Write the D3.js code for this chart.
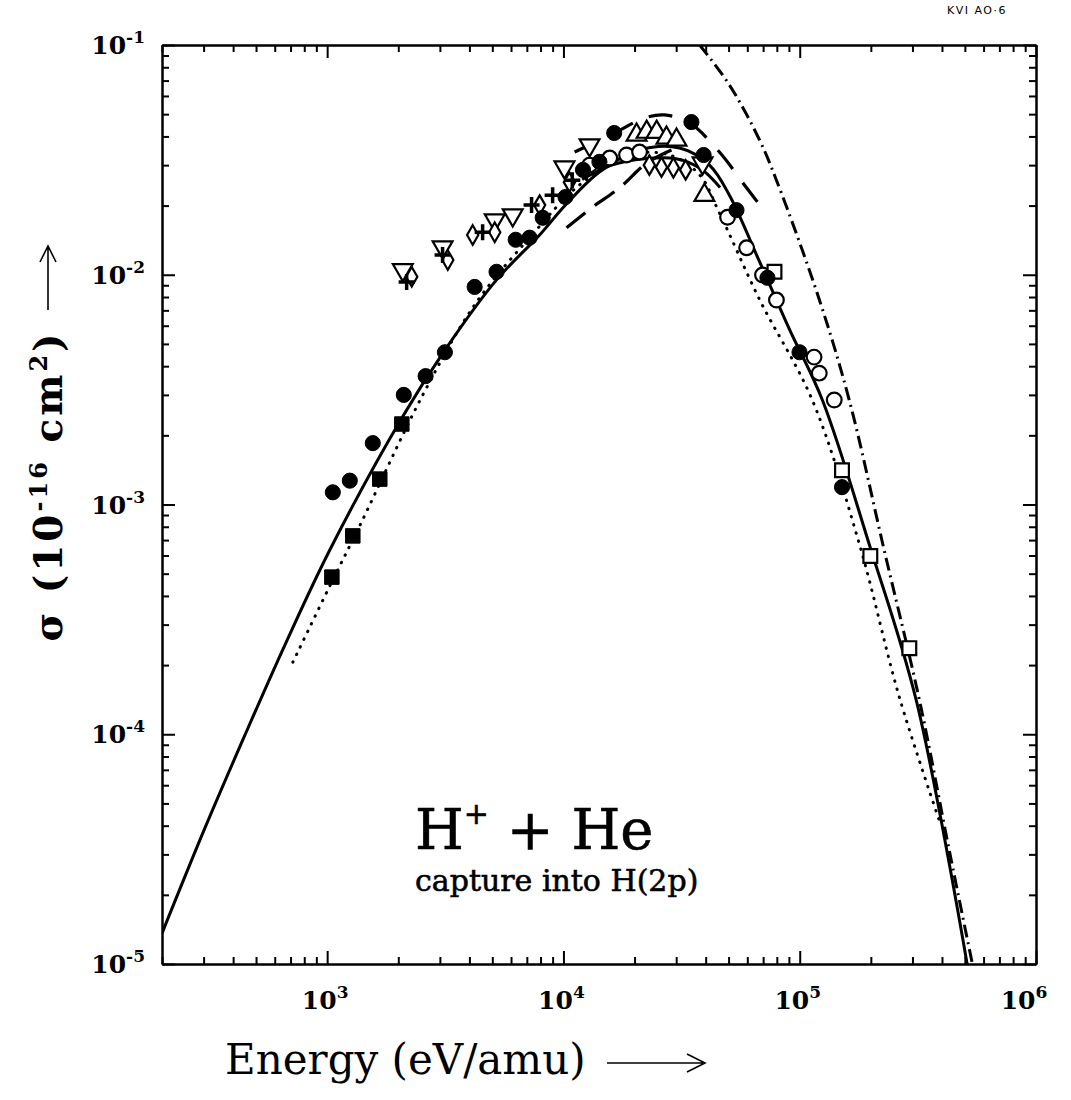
<!DOCTYPE html>
<html>
<head>
<meta charset="utf-8">
<script src="https://cdn.jsdelivr.net/npm/d3@7"></script>
<style>
  body { margin: 0; background: #fff; }
  svg { display: block; }
  .axis path, .axis line { stroke: #000; stroke-width: 2; }
</style>
</head>
<body>
<div id="chart"></div>
<script>
// ---- Data ----
var xMajor = [1e3, 1e4, 1e5, 1e6];
var xExp = ['3', '4', '5', '6'];
var yMajor = [1e-1, 1e-2, 1e-3, 1e-4, 1e-5];
var yExp = ['-1', '-2', '-3', '-4', '-5'];

// theory curves [E (eV/amu), sigma (1e-16 cm2)]
var solidMain = [[200,1.36e-5],[304,3.91e-5],[449,9.93e-5],[663,2.45e-4],[1026,6.34e-4],[2070,2.38e-3],
  [3150,4.7e-3],[5210,9.5e-3],[7930,1.49e-2],[10200,2.01e-2],[14200,2.8e-2],[21000,3.49e-2],[31000,3.56e-2],
  [41500,3.0e-2],[50400,2.22e-2],[67600,1.14e-2],[90400,5.8e-3],[124700,2.85e-3],[197000,6.7e-4],
  [311000,1.41e-4],[512000,9.9e-6]];
var solidLower = [[12000,2.6e-2],[16000,3.0e-2],[22000,3.2e-2],[30000,3.2e-2],[38000,2.9e-2],[46000,2.4e-2]];
var dotted = [[716,2.06e-4],[1026,4.42e-4],[1375,8.1e-4],[2540,3.0e-3],[4210,7.4e-3],[7190,1.45e-2],
  [11700,2.46e-2],[19000,3.32e-2],[28100,3.32e-2],[37700,2.72e-2],[45700,1.86e-2],[67600,7.8e-3],
  [113000,2.85e-3],[179000,6.7e-4],[264000,1.45e-4],[390000,4.2e-5]];
var dashDot = [[37700,0.1],[50400,6.7e-2],[67600,3.86e-2],[79700,2.58e-2],[121000,7.8e-3],
  [162000,2.85e-3],[228000,6.3e-4],[321000,1.41e-4],[430000,3.1e-5],[537000,1.01e-5]];
var dashedLow = [[10310,1.6e-2],[13290,1.97e-2],[17290,2.39e-2],[22480,3.06e-2],[28660,3.49e-2]];
var dashedHigh = [[11150,3.42e-2],[16450,4.14e-2],[22030,4.81e-2],[26790,4.96e-2],[34180,4.58e-2],
  [45710,3.42e-2],[58350,2.46e-2],[72990,1.82e-2]];

// experimental points
var filledCircles = [[1057,1.13e-3],[1247,1.27e-3],[1560,1.85e-3],[2110,3.0e-3],[2610,3.62e-3],[3150,4.6e-3],
  [4210,8.85e-3],[5210,1.03e-2],[6280,1.42e-2],[7190,1.45e-2],[8170,1.77e-2],[10200,2.18e-2],
  [12100,2.86e-2],[14200,3.1e-2],[16400,4.14e-2],[34800,4.62e-2],[39200,3.32e-2],[54000,1.91e-2],
  [73000,9.7e-3],[99800,4.6e-3],[151000,1.19e-3]];
var filledSquares = [[1047,4.83e-4],[1284,7.3e-4],[1670,1.29e-3],[2070,2.24e-3]];
var openSquares = [[78200,1.03e-2],[151000,1.41e-3],[199000,5.97e-4],[291000,2.37e-4]];
var openCircles = [[12900,3.0e-2],[15700,3.22e-2],[18500,3.32e-2],[21000,3.42e-2],[49500,1.78e-2],
  [59600,1.31e-2],[69600,9.97e-3],[79700,7.76e-3],[115000,4.38e-3],[121000,3.73e-3],[140000,2.85e-3]];
var triDown = [[2090,1.05e-2],[3080,1.32e-2],[5120,1.73e-2],[6100,1.82e-2],[10100,2.94e-2],[12900,3.67e-2],[38800,3.06e-2]];
var triUp = [[20400,4.06e-2],[22500,4.18e-2],[24800,4.18e-2],[27300,3.94e-2],[30100,3.86e-2],[39500,2.22e-2]];
var diamonds = [[2280,9.8e-3],[3240,1.16e-2],[4130,1.49e-2],[5120,1.53e-2],[7930,2.01e-2],[10600,2.53e-2],
  [23100,3.0e-2],[26000,2.94e-2],[29200,2.92e-2],[32900,2.86e-2]];
var pluses = [[2170,9.3e-3],[3080,1.22e-2],[4550,1.53e-2],[7330,2.01e-2],[9000,2.22e-2],[10900,2.58e-2]];

// ---- Chart space ----
var W = 1071, H = 1100;
var margin = {top: 45, right: 35, bottom: 136, left: 162};
var x0 = margin.left, x1 = W - margin.right, y0 = margin.top, y1 = H - margin.bottom;

var svg = d3.select('#chart').append('svg')
    .attr('width', W)
    .attr('height', H);

var x = d3.scaleLog().domain([200, 1e6]).range([x0, x1]);
var y = d3.scaleLog().domain([1e-5, 1e-1]).range([y1, y0]);

function minors(lo, hi) {
  var out = [];
  for (var d = lo; d < hi; d *= 10)
    for (var k = 2; k <= 9; k++) out.push(d * k);
  return out;
}
var xMinor = minors(100, 1e6).filter(function(v){ return v >= 200 && v < 1e6; });
var yMinor = minors(1e-5, 1e-1);

// ---- Axes (frame with inward ticks on all sides) ----
function addAxis(axisFn, scale, tx, ty) {
  svg.append('g').attr('class', 'axis')
      .attr('transform', 'translate(' + tx + ',' + ty + ')')
      .call(axisFn(scale).tickValues(scale === x ? xMajor : yMajor).tickSizeInner(-13).tickSizeOuter(0).tickFormat(''));
  svg.append('g').attr('class', 'axis')
      .attr('transform', 'translate(' + tx + ',' + ty + ')')
      .call(axisFn(scale).tickValues(scale === x ? xMinor : yMinor).tickSizeInner(-7).tickSizeOuter(0).tickFormat(''));
}
addAxis(d3.axisBottom, x, 0, y1);
addAxis(d3.axisTop, x, 0, y0);
addAxis(d3.axisLeft, y, x0, 0);
addAxis(d3.axisRight, y, x1, 0);

// tick labels
var lab = svg.append('g').attr('font-family', 'DejaVu Serif, serif').attr('font-weight', 'bold');
xMajor.forEach(function(v, i) {
  var t = lab.append('text')
      .attr('x', x(v) - (i === 3 ? 12 : 2))
      .attr('y', y1 + 45)
      .attr('text-anchor', 'middle')
      .attr('font-size', '25px');
  t.append('tspan').text('10');
  t.append('tspan').attr('dy', -11).attr('font-size', '17px').text(xExp[i]);
});
yMajor.forEach(function(v, i) {
  var t = lab.append('text')
      .attr('x', 145)
      .attr('y', y(v) + 9)
      .attr('text-anchor', 'end')
      .attr('font-size', '25px');
  t.append('tspan').text('10');
  t.append('tspan').attr('dy', -11).attr('font-size', '17px').text(yExp[i]);
});

// ---- Curves ----
svg.append('clipPath').attr('id', 'plotclip')
  .append('rect').attr('x', x0).attr('y', y0).attr('width', x1 - x0).attr('height', y1 - y0);
var plot = svg.append('g').attr('clip-path', 'url(#plotclip)');

var line = d3.line()
    .x(function(d){ return x(d[0]); })
    .y(function(d){ return y(d[1]); })
    .curve(d3.curveCatmullRom.alpha(0.5));

function drawCurve(data, width, dash, cap) {
  plot.append('path')
      .datum(data)
      .attr('d', line)
      .attr('fill', 'none')
      .attr('stroke', '#000')
      .attr('stroke-width', width)
      .attr('stroke-linecap', cap || 'butt')
      .attr('stroke-dasharray', dash);
}
drawCurve(solidMain, 3, null);
drawCurve(solidLower, 3, null);
drawCurve(dotted, 3, '0.5,8', 'round');
drawCurve(dashDot, 3, '13,5,2,5');
drawCurve(dashedHigh, 3.2, '24,17');
drawCurve(dashedLow, 3.2, '24,12');

// ---- Markers ----
function drawSymbols(data, type, size, filled, rot) {
  plot.selectAll(null)
      .data(data)
      .enter()
      .append('path')
      .attr('d', d3.symbol().type(type).size(size))
      .attr('transform', function(d){ return 'translate(' + x(d[0]) + ',' + y(d[1]) + ')' + (rot ? 'rotate(' + rot + ')' : ''); })
      .attr('fill', filled ? '#000' : '#fff')
      .attr('stroke', '#000')
      .attr('stroke-width', filled ? 1 : 2.2);
}
drawSymbols(openCircles, d3.symbolCircle, 170, false);
drawSymbols(openSquares, d3.symbolSquare, 190, false);
drawSymbols(triDown, d3.symbolTriangle, 170, false, 180);
drawSymbols(triUp, d3.symbolTriangle, 170, false);
drawSymbols(diamonds, d3.symbolDiamond, 110, false);
drawSymbols(filledCircles, d3.symbolCircle, 180, true);
drawSymbols(filledSquares, d3.symbolSquare, 210, true);

plot.selectAll(null)
    .data(pluses)
    .enter()
    .append('path')
    .attr('d', 'M-8,0H8M0,-8V8')
    .attr('transform', function(d){ return 'translate(' + x(d[0]) + ',' + y(d[1]) + ')'; })
    .attr('stroke', '#000')
    .attr('stroke-width', 3.5);

// ---- Annotation ----
var ann = svg.append('g').attr('font-family', 'DejaVu Serif, serif').attr('fill', '#000')
    .attr('stroke', '#000').attr('stroke-width', 0.6);
var t1 = ann.append('text').attr('x', 415).attr('y', 849).attr('font-size', '56px');
t1.append('tspan').text('H');
t1.append('tspan').attr('dy', -25).attr('font-size', '30px').text('+');
t1.append('tspan').attr('dy', 25).text(' + He');
ann.append('text').attr('x', 415).attr('y', 891).attr('font-size', '30px').text('capture into H(2p)');

// ---- Axis titles ----
var tt = svg.append('g').attr('font-family', 'DejaVu Serif, serif').attr('fill', '#000');
tt.append('text')
    .attr('x', 225).attr('y', 1074)
    .attr('font-size', '42px')
    .text('Energy (eV/amu)');
svg.append('path')
    .attr('d', 'M607,1063H703M687,1054L705,1063L687,1072')
    .attr('fill', 'none').attr('stroke', '#000').attr('stroke-width', 1.6);

var yt = tt.append('text')
    .attr('transform', 'translate(62,486)rotate(-90)')
    .attr('text-anchor', 'middle')
    .attr('font-size', '39px')
    .attr('letter-spacing', '3px')
    .attr('font-weight', 'bold');
yt.append('tspan').text('σ (10');
yt.append('tspan').attr('dy', -15).attr('font-size', '24px').text('-16');
yt.append('tspan').attr('dy', 15).text(' cm');
yt.append('tspan').attr('dy', -15).attr('font-size', '24px').text('2');
yt.append('tspan').attr('dy', 15).text(')');
svg.append('path')
    .attr('d', 'M48,310V248M40,262L48,246L56,262')
    .attr('fill', 'none').attr('stroke', '#000').attr('stroke-width', 1.6);

svg.append('text')
    .attr('x', 947).attr('y', 14)
    .attr('font-family', 'DejaVu Sans, sans-serif')
    .attr('font-size', '11px')
    .attr('letter-spacing', '1.5px')
    .text('KVI  AO·6');
</script>
</body>
</html>
